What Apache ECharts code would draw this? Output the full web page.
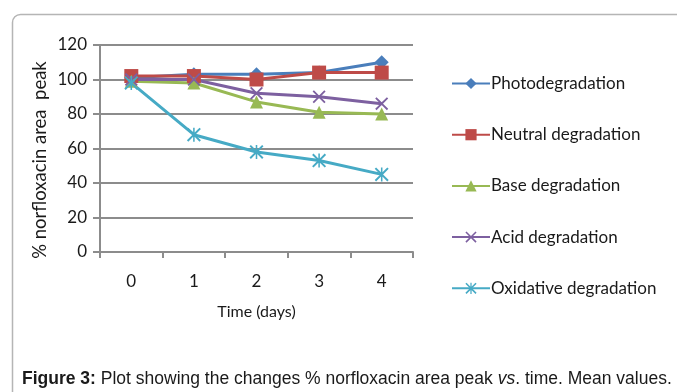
<!DOCTYPE html>
<html>
<head>
<meta charset="utf-8">
<script src="https://cdn.jsdelivr.net/npm/echarts@6/dist/echarts.min.js"></script>
<style>
  html, body { margin: 0; padding: 0; background: #fff; }
  #chart { width: 677px; height: 392px; }
</style>
</head>
<body>
<div id="chart"></div>
<script>
// Time points (days)
const days = ['0', '1', '2', '3', '4'];

// % norfloxacin area peak under each stress condition
const photo = [101, 103, 103, 104, 110];
const neutral = [102, 102, 100, 104, 104];
const base = [99, 98, 87, 81, 80];
const acid = [100, 100, 92, 90, 86];
const oxidative = [98, 68, 58, 53, 45];

// Y axis ticks
const yTicks = [0, 20, 40, 60, 80, 100, 120];

const seriesNames = ['Photodegradation', 'Neutral degradation', 'Base degradation', 'Acid degradation', 'Oxidative degradation'];
const seriesColors = ['#4a7ebb', '#be4b48', '#98b954', '#7d60a0', '#46aac5'];

// Filled outlines for the cross and asterisk markers
const crossPath = 'path://M0,1 L1,0 L5,4 L9,0 L10,1 L6,5 L10,9 L9,10 L5,6 L1,10 L0,9 L4,5 Z';
const starPath = 'path://M0,1 L1,0 L5,4 L9,0 L10,1 L6,5 L10,9 L9,10 L5,6 L1,10 L0,9 L4,5 Z M4.45,0 L5.55,0 L5.55,10 L4.45,10 Z';

const labelFont = 'Lato, "Open Sans", sans-serif';
const captionFont = '"Liberation Sans", Arial, sans-serif';

function makeSeries(name, data, color, symbol, size) {
  return {
    name: name,
    type: 'line',
    data: data,
    symbol: symbol,
    symbolSize: size,
    showAllSymbol: true,
    lineStyle: { color: color, width: 3 },
    itemStyle: { color: color },
    emphasis: { disabled: true },
    animation: false
  };
}

const chart = echarts.init(document.getElementById('chart'), null, { renderer: 'canvas' });

chart.setOption({
  backgroundColor: '#ffffff',
  animation: false,
  graphic: [
    {
      type: 'rect',
      shape: { x: 12.5, y: 14.5, width: 700, height: 420, r: 8 },
      style: { fill: 'none', stroke: '#b5b5b5', lineWidth: 1.5 },
      z: 0
    },
    {
      // Y axis title, rotated
      type: 'text',
      x: 40,
      y: 160,
      rotation: Math.PI / 2,
      style: {
        text: '% norfloxacin area  peak',
        font: '18.5px Lato, "Open Sans", sans-serif',
        fill: '#1a1a1a',
        align: 'center',
        verticalAlign: 'middle'
      },
      z: 10
    },
    {
      type: 'text',
      left: 22,
      top: 370,
      style: {
        text: '{b|Figure 3:} Plot showing the changes % norfloxacin area peak {i|vs}. time. Mean values.',
        font: '17.5px ' + captionFont,
        fill: '#1a1a1a',
        rich: {
          b: { fontWeight: 'bold', fontSize: 17.5, fontFamily: captionFont, fill: '#1a1a1a' },
          i: { fontStyle: 'italic', fontSize: 17.5, fontFamily: captionFont, fill: '#1a1a1a' }
        }
      },
      z: 10
    }
  ],
  legend: {
    orient: 'vertical',
    left: 446,
    top: 70,
    itemGap: 34.2,
    itemWidth: 38,
    itemHeight: 14,
    data: seriesNames,
    textStyle: { fontFamily: labelFont, fontSize: 17, color: '#1a1a1a', padding: [0, 0, 0, -4] },
    selectedMode: false
  },
  grid: {
    left: 100,
    right: 264,
    top: 45,
    bottom: 140,
    containLabel: false
  },
  xAxis: {
    type: 'category',
    data: days,
    boundaryGap: true,
    name: 'Time (days)',
    nameLocation: 'middle',
    nameGap: 52,
    nameTextStyle: { fontFamily: labelFont, fontSize: 16, color: '#1a1a1a' },
    axisLine: { lineStyle: { color: '#8c8c8c', width: 2 } },
    axisTick: { show: true, length: 6, lineStyle: { color: '#8c8c8c', width: 2 } },
    axisLabel: { fontFamily: labelFont, fontSize: 17, color: '#1a1a1a', margin: 21 },
    splitLine: { show: false }
  },
  yAxis: {
    type: 'value',
    min: yTicks[0],
    max: yTicks[yTicks.length - 1],
    interval: 20,
    axisLine: { show: true, lineStyle: { color: '#8c8c8c', width: 2 } },
    axisTick: { show: true, length: 7, lineStyle: { color: '#8c8c8c', width: 2 } },
    axisLabel: { fontFamily: labelFont, fontSize: 17, color: '#1a1a1a', margin: 13 },
    splitLine: { show: true, lineStyle: { color: '#8c8c8c', width: 2 } }
  },
  series: [
    makeSeries(seriesNames[0], photo, seriesColors[0], 'diamond', 14),
    makeSeries(seriesNames[1], neutral, seriesColors[1], 'rect', 14),
    makeSeries(seriesNames[2], base, seriesColors[2], 'triangle', 13),
    makeSeries(seriesNames[3], acid, seriesColors[3], crossPath, 13),
    makeSeries(seriesNames[4], oxidative, seriesColors[4], starPath, 14)
  ]
});
</script>
</body>
</html>
